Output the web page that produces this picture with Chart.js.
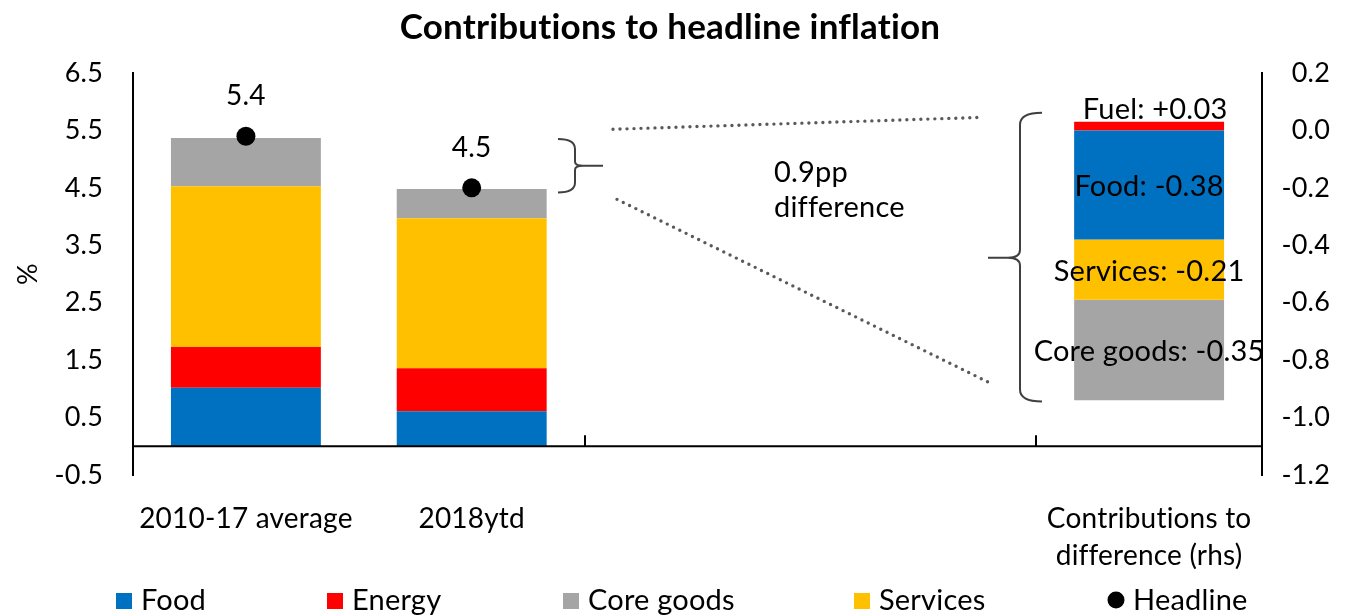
<!DOCTYPE html>
<html>
<head>
<meta charset="utf-8">
<title>Contributions to headline inflation</title>
<script src="https://cdn.jsdelivr.net/npm/chart.js@4.4.1/dist/chart.umd.min.js"></script>
<style>
  html, body { margin: 0; padding: 0; background: #fff; }
  #wrap { position: relative; width: 1346px; height: 615px; }
</style>
</head>
<body>
<div id="wrap"><canvas id="inflationChart" width="1346" height="615"></canvas></div>
<script>
var chartTitle = "Contributions to headline inflation";
var categories = ["2010-17 average", "2018ytd", "", "", ["Contributions to", "difference (rhs)"]];

// lhs stacked bars, pp contributions to CPI inflation
var food = [1.02, 0.61, null, null, null];
var energy = [0.71, 0.75, null, null, null];
var services = [2.80, 2.61, null, null, null];
var coreGoods = [0.84, 0.51, null, null, null];
var headline = [5.4, 4.5, null, null, null];

// rhs bar, change in contributions between the two periods
var diffFood = [null, null, null, null, -0.38];
var diffFuel = [null, null, null, null, 0.03];
var diffServices = [null, null, null, null, -0.21];
var diffCoreGoods = [null, null, null, null, -0.35];

var leftTicks = [-0.5, 0.5, 1.5, 2.5, 3.5, 4.5, 5.5, 6.5];
var rightTicks = [-1.2, -1.0, -0.8, -0.6, -0.4, -0.2, 0.0, 0.2];

var BLUE = "#0070C0", RED = "#FF0000", GREY = "#A5A5A5", GOLD = "#FFC000";
var FONT = "Lato, 'Open Sans', sans-serif";

function setTicks(list) {
    return function (scale) {
        scale.ticks = list.map(function (v) { return { value: v }; });
    };
}

// a touch of tracking keeps Lato from joining "ti" / "fl"
var noLigatures = {
    id: "noLigatures",
    beforeInit: function (chart) { chart.ctx.letterSpacing = "0.2px"; },
    beforeDraw: function (chart) { chart.ctx.letterSpacing = "0.2px"; }
};

// braces, dotted guide lines, data labels, title and legend
var annotations = {
    id: "annotations",
    afterDraw: function (chart) {
        var ctx = chart.ctx;
        var xs = chart.scales.x, yl = chart.scales.y, yr = chart.scales.y2;
        var area = chart.chartArea;
        ctx.save();

        // title
        ctx.fillStyle = "#000";
        ctx.textAlign = "center";
        ctx.textBaseline = "middle";
        ctx.font = "bold 35px " + FONT;
        ctx.fillText(chartTitle, 670, 28);

        // horizontal axis crosses at zero
        var y0 = yl.getPixelForValue(0);
        ctx.strokeStyle = "#000";
        ctx.lineWidth = 2;
        ctx.beginPath();
        ctx.moveTo(area.left, y0);
        ctx.lineTo(area.right, y0);
        ctx.stroke();
        // tick marks every second category
        [1.5, 3.5].forEach(function (v) {
            var px = Math.round(xs.getPixelForValue(v));
            ctx.beginPath();
            ctx.moveTo(px, y0);
            ctx.lineTo(px, y0 - 11);
            ctx.stroke();
        });

        // headline values above the dots
        var hMeta = chart.getDatasetMeta(8);
        ctx.font = "28px " + FONT;
        headline.forEach(function (v, i) {
            if (v === null) return;
            var pt = hMeta.data[i];
            ctx.fillText(v.toFixed(1), pt.x, pt.y - 40);
        });

        // labels on the rhs bar
        ctx.font = "29px " + FONT;
        var parts = [
            { ds: 4, name: "Food", data: diffFood },
            { ds: 5, name: "Fuel", data: diffFuel },
            { ds: 6, name: "Services", data: diffServices },
            { ds: 7, name: "Core goods", data: diffCoreGoods }
        ];
        parts.forEach(function (p) {
            var bar = chart.getDatasetMeta(p.ds).data[4];
            var v = p.data[4];
            var txt = p.name + ": " + (v > 0 ? "+" : "") + v.toFixed(2);
            if (v > 0) {
                ctx.fillText(txt, bar.x + 6, bar.y - 12);
            } else {
                ctx.fillText(txt, bar.x, (bar.y + bar.base) / 2 + 2);
            }
        });

        // gap between the two headline rates
        ctx.strokeStyle = "#404040";
        ctx.lineWidth = 2;
        var bt = yl.getPixelForValue(5.35), bb = yl.getPixelForValue(4.42);
        var bm = (bt + bb) / 2;
        ctx.beginPath();
        ctx.moveTo(558, bt);
        ctx.quadraticCurveTo(575, bt, 575, bt + 10);
        ctx.lineTo(575, bm - 4);
        ctx.quadraticCurveTo(575, bm, 583, bm);
        ctx.lineTo(603, bm);
        ctx.moveTo(583, bm);
        ctx.quadraticCurveTo(575, bm, 575, bm + 4);
        ctx.lineTo(575, bb - 10);
        ctx.quadraticCurveTo(575, bb, 558, bb);
        ctx.stroke();

        // large brace spanning the rhs bar
        var Bt = yr.getPixelForValue(0.062), Bb = yr.getPixelForValue(-0.944);
        var Bm = yr.getPixelForValue(-0.443);
        ctx.beginPath();
        ctx.moveTo(1042, Bt);
        ctx.quadraticCurveTo(1020, Bt, 1020, Bt + 12);
        ctx.lineTo(1020, Bm - 8);
        ctx.quadraticCurveTo(1020, Bm, 1008, Bm);
        ctx.lineTo(988, Bm);
        ctx.moveTo(1008, Bm);
        ctx.quadraticCurveTo(1020, Bm, 1020, Bm + 8);
        ctx.lineTo(1020, Bb - 12);
        ctx.quadraticCurveTo(1020, Bb, 1042, Bb);
        ctx.stroke();

        // dotted guide lines between the two braces
        ctx.strokeStyle = "#595959";
        ctx.lineWidth = 3.4;
        ctx.lineCap = "round";
        ctx.setLineDash([0, 7]);
        ctx.beginPath();
        ctx.moveTo(613, yl.getPixelForValue(5.52));
        ctx.lineTo(977, yr.getPixelForValue(0.045));
        ctx.moveTo(617, yl.getPixelForValue(4.3));
        ctx.lineTo(992, yr.getPixelForValue(-0.883));
        ctx.stroke();
        ctx.setLineDash([]);
        ctx.lineCap = "butt";

        ctx.fillStyle = "#000";
        ctx.textAlign = "left";
        ctx.font = "29px " + FONT;
        ctx.fillText("0.9pp", 774, 173);
        ctx.fillText("difference", 774, 208);

        // legend
        var legendY = 600;
        var items = [
            { text: "Food", color: BLUE, x: 116 },
            { text: "Energy", color: RED, x: 327 },
            { text: "Core goods", color: GREY, x: 563 },
            { text: "Services", color: GOLD, x: 854 }
        ];
        ctx.font = "29px " + FONT;
        items.forEach(function (it) {
            ctx.fillStyle = it.color;
            ctx.fillRect(it.x, legendY - 7, 16, 16);
            ctx.fillStyle = "#000";
            ctx.fillText(it.text, it.x + 25, legendY + 1);
        });
        ctx.beginPath();
        ctx.arc(1116, legendY, 8.5, 0, Math.PI * 2);
        ctx.fill();
        ctx.fillText("Headline", 1133, legendY + 1);

        ctx.restore();
    }
};

var ctx = document.getElementById("inflationChart").getContext("2d");
new Chart(ctx, {
    type: "bar",
    data: {
        labels: categories,
        datasets: [
            { label: "Food", data: food, backgroundColor: BLUE, yAxisID: "y", stack: "lhs" },
            { label: "Energy", data: energy, backgroundColor: RED, yAxisID: "y", stack: "lhs" },
            { label: "Services", data: services, backgroundColor: GOLD, yAxisID: "y", stack: "lhs" },
            { label: "Core goods", data: coreGoods, backgroundColor: GREY, yAxisID: "y", stack: "lhs" },
            { label: "Food", data: diffFood, backgroundColor: BLUE, yAxisID: "y2", stack: "rhs" },
            { label: "Energy", data: diffFuel, backgroundColor: RED, yAxisID: "y2", stack: "rhs" },
            { label: "Services", data: diffServices, backgroundColor: GOLD, yAxisID: "y2", stack: "rhs" },
            { label: "Core goods", data: diffCoreGoods, backgroundColor: GREY, yAxisID: "y2", stack: "rhs" },
            {
                type: "line", label: "Headline", data: headline, yAxisID: "y", stack: "headline",
                order: -1, showLine: false, pointRadius: 9.5, pointBackgroundColor: "#000",
                pointBorderWidth: 0, pointHoverRadius: 9.5
            }
        ]
    },
    options: {
        responsive: false,
        animation: false,
        devicePixelRatio: 1,
        layout: { padding: { top: 73, right: 16, bottom: 0, left: 0 } },
        datasets: {
            bar: { grouped: false, categoryPercentage: 1, barPercentage: 0.664 }
        },
        plugins: {
            legend: { display: false },
            title: { display: false },
            tooltip: { enabled: false }
        },
        scales: {
            x: {
                stacked: true,
                offset: true,
                grid: { display: false, drawTicks: false },
                border: { display: false },
                ticks: {
                    color: "#000", font: { family: FONT, size: 28, lineHeight: 1.3 },
                    padding: 26, maxRotation: 0, autoSkip: false
                },
                afterFit: function (s) { s.height = 140; }
            },
            y: {
                position: "left",
                stacked: true,
                min: -0.5, max: 6.5,
                afterBuildTicks: setTicks(leftTicks),
                grid: { display: false, drawTicks: false },
                border: { display: true, color: "#000", width: 2 },
                ticks: {
                    color: "#000", font: { family: FONT, size: 27 }, padding: 30,
                    callback: function (v) { return Number(v).toFixed(1); }
                },
                title: {
                    display: true, text: "%", color: "#000",
                    font: { family: FONT, size: 27 }, padding: { top: 12, bottom: 0 }
                },
                afterFit: function (s) { s.width = 133; }
            },
            y2: {
                position: "right",
                stacked: true,
                min: -1.2, max: 0.2,
                afterBuildTicks: setTicks(rightTicks),
                grid: { display: false, drawTicks: false },
                border: { display: true, color: "#000", width: 2 },
                ticks: {
                    color: "#000", font: { family: FONT, size: 27 }, crossAlign: "far",
                    callback: function (v) { return Number(v).toFixed(1); }
                },
                afterFit: function (s) { s.width = 68; }
            }
        }
    },
    plugins: [noLigatures, annotations]
});
</script>
</body>
</html>
